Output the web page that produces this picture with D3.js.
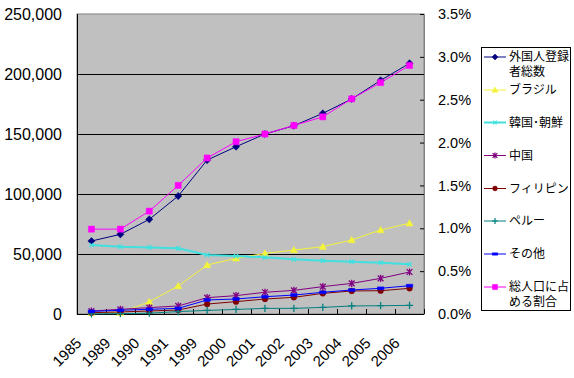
<!DOCTYPE html>
<html><head><meta charset="utf-8">
<script src="https://cdn.jsdelivr.net/npm/d3@7"></script>
<style>
html,body{margin:0;padding:0;background:#fff;}
svg{display:block;}
</style></head>
<body>
<script>
// ---- data ----
const categories = ["1985","1989","1990","1991","1999","2000","2001","2002","2003","2004","2005","2006"];
const total  = [60800, 66400, 78900, 98300, 128300, 139400, 150000, 156900, 167200, 179200, 194700, 208900];
const brazil = [1000, 1000, 10200, 23300, 40800, 46400, 50500, 53300, 56100, 61700, 70000, 75600];
const korea  = [57500, 56100, 55500, 54700, 49200, 48300, 47200, 45600, 44400, 43600, 42800, 41400];
const china  = [2500, 3900, 5300, 6700, 13600, 15300, 18100, 19700, 22800, 25500, 29700, 35000];
const philippines = [1100, 1700, 2500, 3300, 8300, 10300, 12500, 13900, 17200, 19200, 19400, 21400];
const peru   = [100, 300, 700, 2000, 3000, 3800, 4700, 4700, 5500, 6700, 6900, 7200];
const others = [2200, 3100, 3900, 4700, 11700, 12500, 14400, 15800, 18100, 20000, 21400, 23600];
const ratio  = [0.0099, 0.0099, 0.0120, 0.0150, 0.0182, 0.0201, 0.0210, 0.0220, 0.0230, 0.0251, 0.0270, 0.0290];
const leftTicks  = [0, 50000, 100000, 150000, 200000, 250000];
const rightTicks = [0, 0.005, 0.010, 0.015, 0.020, 0.025, 0.030, 0.035];
const seriesNames = ["外国人登録者総数","ブラジル","韓国･朝鮮","中国","フィリピン","ペルー","その他","総人口に占める割合"];
const legendLines = [["外国人登録","者総数"],["ブラジル"],["韓国･朝鮮"],["中国"],["フィリピン"],["ペルー"],["その他"],["総人口に占","める割合"]];

const series = [
  {name: seriesNames[0], values: total,       color: "#000080", marker: "diamond",  axis: "L", w: 1},
  {name: seriesNames[1], values: brazil,      color: "#f4f43a", marker: "triangle", axis: "L", w: 1},
  {name: seriesNames[2], values: korea,       color: "#40e0e0", marker: "x",        axis: "L", w: 2},
  {name: seriesNames[3], values: china,       color: "#800080", marker: "star",     axis: "L", w: 1},
  {name: seriesNames[4], values: philippines, color: "#800000", marker: "circle",   axis: "L", w: 1},
  {name: seriesNames[5], values: peru,        color: "#008080", marker: "plus",     axis: "L", w: 1},
  {name: seriesNames[6], values: others,      color: "#0000ff", marker: "dash",     axis: "L", w: 1},
  {name: seriesNames[7], values: ratio,       color: "#ff00ff", marker: "square",   axis: "R", w: 1}
];

// ---- layout ----
const W = 574, H = 378;
const plot = {l: 77, r: 424, t: 14, b: 314};

const svg = d3.select("body").append("svg").attr("width", W).attr("height", H);

const x = d3.scaleBand().domain(categories).range([plot.l, plot.r]);
const cx = c => x(c) + x.bandwidth() / 2;
const yL = d3.scaleLinear().domain([0, 250000]).range([plot.b, plot.t]);
const yR = d3.scaleLinear().domain([0, 0.035]).range([plot.b, plot.t]);

// plot background
svg.append("rect").attr("x", plot.l).attr("y", plot.t)
  .attr("width", plot.r - plot.l).attr("height", plot.b - plot.t)
  .attr("fill", "#c0c0c0").attr("stroke", "#808080").attr("stroke-width", 1);

// gridlines
svg.append("g").selectAll("line").data(leftTicks.filter(d => d > 0 && d < 250000)).join("line")
  .attr("x1", plot.l).attr("x2", plot.r)
  .attr("y1", d => Math.round(yL(d)) + 0.5).attr("y2", d => Math.round(yL(d)) + 0.5)
  .attr("stroke", "#000").attr("stroke-width", 1);

// left axis
const gL = svg.append("g").attr("transform", `translate(${plot.l},0)`)
  .call(d3.axisLeft(yL).tickValues(leftTicks).tickFormat(d3.format(",")).tickSize(0).tickPadding(15));
gL.select(".domain").remove();
gL.selectAll("text").attr("font-family", "'Liberation Sans', Arial, sans-serif").attr("font-size", 16).attr("fill", "#000");
svg.append("line").attr("x1", plot.l + 0.5).attr("x2", plot.l + 0.5).attr("y1", plot.t).attr("y2", plot.b)
  .attr("stroke", "#000");

// right axis
const gR = svg.append("g").attr("transform", `translate(${plot.r},0)`)
  .call(d3.axisRight(yR).tickValues(rightTicks).tickFormat(d3.format(".1%")).tickSizeInner(-4).tickSizeOuter(0).tickPadding(14));
gR.select(".domain").attr("stroke", "#808080");
gR.selectAll(".tick line").attr("stroke", "#000");
gR.selectAll("text").attr("font-family", "'Liberation Sans', Arial, sans-serif").attr("font-size", 14.5).attr("fill", "#000");

// bottom axis
const gB = svg.append("g").attr("transform", `translate(0,${plot.b})`)
  .call(d3.axisBottom(x).tickSize(0).tickPadding(0));
gB.select(".domain").remove();
gB.selectAll("text")
  .attr("font-family", "'Liberation Sans', Arial, sans-serif").attr("font-size", 15).attr("fill", "#000")
  .attr("y", 0).attr("dy", 0).attr("text-anchor", "end")
  .attr("transform", "translate(-9,30) rotate(-45)");
// category boundary tick marks (inward)
const bounds = categories.map(c => x(c)).concat([plot.r]);
svg.append("g").selectAll("line").data(bounds).join("line")
  .attr("x1", d => Math.round(d) + 0.5).attr("x2", d => Math.round(d) + 0.5)
  .attr("y1", plot.b).attr("y2", plot.b - 5).attr("stroke", "#000");
svg.append("line").attr("x1", plot.l).attr("x2", plot.r).attr("y1", plot.b + 0.5).attr("y2", plot.b + 0.5)
  .attr("stroke", "#000");

// markers
function markerPath(type, s) {
  const p = d3.path();
  switch (type) {
    case "diamond": p.moveTo(0,-s); p.lineTo(s,0); p.lineTo(0,s); p.lineTo(-s,0); p.closePath(); break;
    case "square": p.rect(-s*0.85,-s*0.85,s*1.7,s*1.7); break;
    case "triangle": p.moveTo(0,-s); p.lineTo(s,s*0.75); p.lineTo(-s,s*0.75); p.closePath(); break;
    case "circle": p.arc(0,0,s*0.8,0,Math.PI*2); break;
    case "dash": p.rect(-s*0.9,-s*0.4,s*1.8,s*0.8); break;
    case "x": p.moveTo(-s*0.6,-s*0.6); p.lineTo(s*0.6,s*0.6); p.moveTo(s*0.6,-s*0.6); p.lineTo(-s*0.6,s*0.6); break;
    case "plus": p.moveTo(-s,0); p.lineTo(s,0); p.moveTo(0,-s); p.lineTo(0,s); break;
    case "star": p.moveTo(-s*0.8,-s*0.8); p.lineTo(s*0.8,s*0.8); p.moveTo(s*0.8,-s*0.8); p.lineTo(-s*0.8,s*0.8); p.moveTo(0,-s); p.lineTo(0,s); break;
  }
  return p.toString();
}
const strokeOnly = t => (t === "x" || t === "plus" || t === "star");

// lines
const gS = svg.append("g");
series.forEach(s => {
  const ys = s.axis === "L" ? yL : yR;
  const line = d3.line().x((d, i) => cx(categories[i])).y(d => ys(d));
  gS.append("path").datum(s.values).attr("d", line)
    .attr("fill", "none").attr("stroke", s.color).attr("stroke-width", s.w);
});
series.forEach(s => {
  const ys = s.axis === "L" ? yL : yR;
  gS.append("g").selectAll("path").data(s.values).join("path")
    .attr("transform", (d, i) => `translate(${cx(categories[i])},${ys(d)})`)
    .attr("d", markerPath(s.marker, 3.6))
    .attr("fill", strokeOnly(s.marker) ? "none" : s.color)
    .attr("stroke", s.color).attr("stroke-width", strokeOnly(s.marker) ? 1.3 : 0.5);
});

// legend
const lg = {x: 481, y: 47, w: 89, h: 263};
svg.append("clipPath").attr("id", "lgclip").append("rect")
  .attr("x", lg.x).attr("y", lg.y).attr("width", lg.w).attr("height", lg.h);
svg.append("rect").attr("x", lg.x + 0.5).attr("y", lg.y + 0.5).attr("width", lg.w).attr("height", lg.h)
  .attr("fill", "#fff").attr("stroke", "#000");
const entryY = [57, 90, 122.5, 155.5, 188.5, 221, 254, 287];
const gLeg = svg.append("g").attr("clip-path", "url(#lgclip)");
series.forEach((s, i) => {
  const yy = entryY[i];
  gLeg.append("line").attr("x1", 484).attr("x2", 506).attr("y1", yy).attr("y2", yy)
    .attr("stroke", s.color).attr("stroke-width", s.w);
  gLeg.append("path").attr("transform", `translate(495,${yy})`).attr("d", markerPath(s.marker, 3))
    .attr("fill", strokeOnly(s.marker) ? "none" : s.color)
    .attr("stroke", s.color).attr("stroke-width", strokeOnly(s.marker) ? 1.2 : 0.5);
  const t = gLeg.append("text").attr("x", 509).attr("y", yy)
    .attr("font-family", "'Noto Sans CJK JP', sans-serif").attr("font-size", 12).attr("fill", "#000");
  legendLines[i].forEach((ln, k) => {
    t.append("tspan").attr("x", 509).attr("y", yy + k * 14.5).attr("dy", "0.35em").text(ln);
  });
});
</script>
</body></html>
